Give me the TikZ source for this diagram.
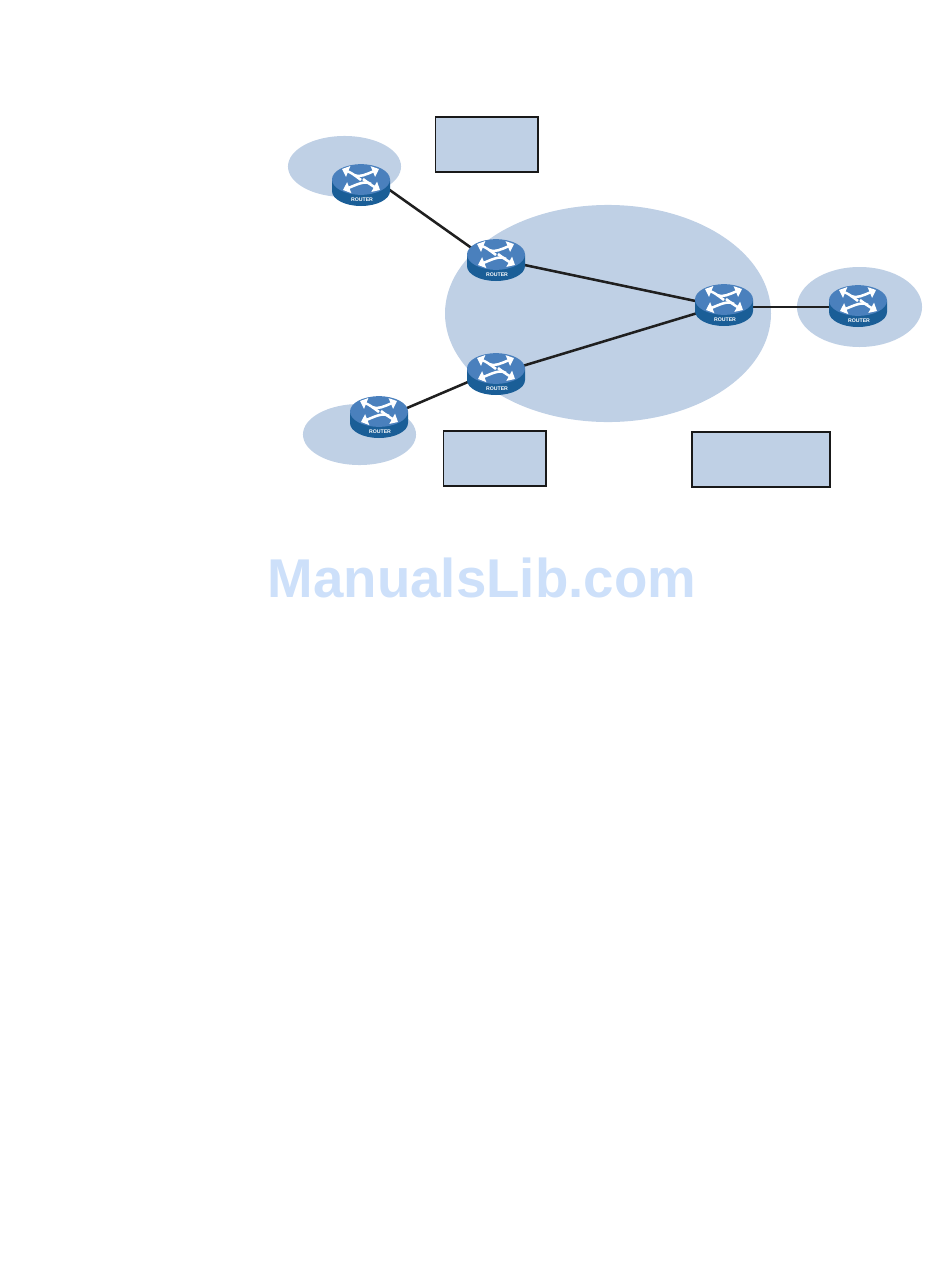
\documentclass[tikz,border=0pt]{standalone}
\usepackage{fontspec}
\setmainfont{Liberation Sans}
\usetikzlibrary{arrows.meta}
\definecolor{cloud}{HTML}{BFD0E5}
\definecolor{rtop}{HTML}{4A80BD}
\definecolor{rside}{HTML}{1A5E97}
\definecolor{wm}{HTML}{CDE0FA}
\tikzset{
  x=0.75pt,y=-0.75pt,
  area/.style={fill=cloud,draw=none},
  labelbox/.style={fill=cloud,draw=black!90,line width=1.4pt},
  link/.style={draw=black!88,line width=1.9pt},
  rnode/.style={inner sep=0pt,minimum width=43.5pt,minimum height=31.5pt},
  harrow/.style={draw=white,line width=1.9pt,-{Triangle[length=5pt,width=8.5pt]}},
  router/.pic={
    \fill[rside] (-29,-5.5) -- (-29,6) arc[start angle=180,end angle=360,x radius=21.75pt,y radius=11.25pt] -- (29,-5.5) -- cycle;
    \fill[rtop] (0,-5.5) ellipse[x radius=21.75pt,y radius=11.5pt];
    \draw[harrow] (0,-5) .. controls (-4,-8) and (-9,-12) .. (-19,-16);
    \draw[harrow] (-7,-10) .. controls (-2,-7) and (6,-11) .. (18,-16);
    \draw[harrow] (10,-1) .. controls (4,-5) and (-5,0) .. (-18,5);
    \draw[harrow] (2,-6) .. controls (6,-3) and (10,0) .. (19,5);
    \node[text=white,font=\bfseries\fontsize{3.9pt}{4pt}\selectfont,inner sep=0pt] at (1,15) {ROUTER};
  }
}
\begin{document}
\begin{tikzpicture}
\useasboundingbox (0,0) rectangle (950,1267);
\fill[area] (344.5,166.5) ellipse[x radius=42.4pt,y radius=22.9pt];
\fill[area] (608,313.5) ellipse[x radius=122.25pt,y radius=81.4pt];
\fill[area] (359.5,434.5) ellipse[x radius=42.4pt,y radius=22.9pt];
\fill[area] (859.5,307) ellipse[x radius=46.9pt,y radius=30pt];
\node[labelbox,minimum width=76.6pt,minimum height=40.8pt,inner sep=0pt] (b1) at (486.5,144.5) {};
\node[labelbox,minimum width=76.6pt,minimum height=40.8pt,inner sep=0pt] (b2) at (494.5,458.5) {};
\node[labelbox,minimum width=103.1pt,minimum height=40.8pt,inner sep=0pt] (b3) at (761,459.5) {};
\node[rnode] (r1) at (361,185) {};
\node[rnode] (r2) at (496,260) {};
\node[rnode] (r3) at (496,374) {};
\node[rnode] (r4) at (379,417) {};
\node[rnode] (r5) at (724,305) {};
\node[rnode] (r6) at (858,306) {};
\draw[link] ([yshift=11.5pt]r1.center) -- ([yshift=-4pt]r2.center);
\draw[link] ([yshift=0.75pt]r2.center) -- ([yshift=-1.5pt]r5.center);
\draw[link] (r3.center) -- (r5.center);
\draw[link] ([yshift=3pt]r3.center) -- ([yshift=-2.25pt]r4.center);
\draw[link] ([yshift=-1.5pt]r5.center) -- ([yshift=-0.75pt]r6.center);
\foreach \n in {r1,r2,r3,r4,r5,r6} \pic at (\n) {router};
\node[text=wm,font=\bfseries\fontsize{41pt}{41pt}\selectfont,inner sep=0pt] (wmk) at (482,578) {ManualsLib.com};
\end{tikzpicture}
\end{document}
